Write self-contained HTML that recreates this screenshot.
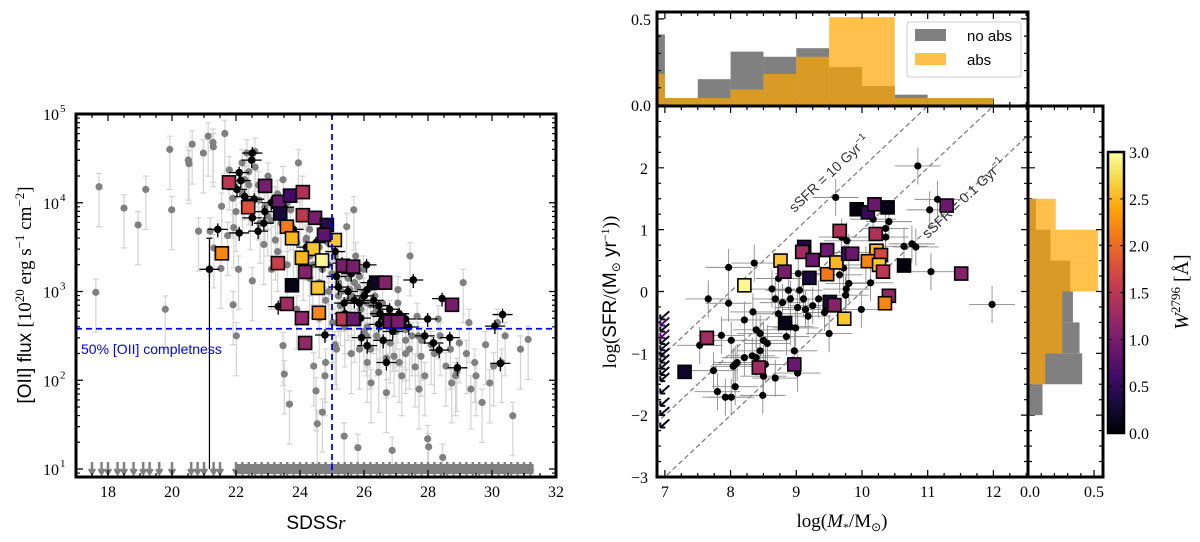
<!DOCTYPE html>
<html><head><meta charset="utf-8"><style>
body{margin:0;background:#fff;}
svg{display:block;font-family:"Liberation Serif",serif;}
.sans{font-family:"Liberation Sans",sans-serif;}
</style></head><body>
<svg id="fig" width="1200" height="542" viewBox="0 0 1200 542" xmlns="http://www.w3.org/2000/svg">
<defs>
<linearGradient id="inferno" x1="0" y1="1" x2="0" y2="0">
<stop offset="0" stop-color="#000004"/><stop offset="0.1" stop-color="#160b39"/><stop offset="0.2" stop-color="#420a68"/><stop offset="0.3" stop-color="#6a176e"/><stop offset="0.4" stop-color="#932667"/><stop offset="0.5" stop-color="#bc3754"/><stop offset="0.6" stop-color="#dd513a"/><stop offset="0.7" stop-color="#f37819"/><stop offset="0.8" stop-color="#fca50a"/><stop offset="0.9" stop-color="#f6d746"/><stop offset="1" stop-color="#fcffa4"/>
</linearGradient>
<clipPath id="clipL"><rect x="76" y="114" width="480" height="363"/></clipPath>
<clipPath id="clipR"><rect x="657" y="106" width="371" height="371"/></clipPath>
</defs>
<g id="layer"></g>
</svg>
<script>
// ---------- LEFT PANEL DATA ----------
const grayR=[17.62,17.72,18.50,18.94,19.18,19.79,19.93,19.99,20.51,20.53,20.63,20.98,21.13,21.28,21.29,21.65,21.79,20.83,21.19,21.31,21.53,21.55,21.74,21.93,22.08,21.91,22.01,22.19,22.34,22.51,22.59,22.72,22.87,22.99,23.11,23.23,23.41,23.47,23.51,23.67,23.95,24.19,24.31,24.43,24.50,24.54,24.70,24.78,24.88,25.02,25.38,25.46,25.68,25.81,26.08,26.22,26.46,26.82,27.06,27.30,27.44,27.66,27.78,27.99,28.02,28.32,28.56,28.74,28.98,29.10,29.28,29.46,29.69,29.93,30.17,30.41,30.65,30.89,31.13,28.46,26.88,30.05,27.72,27.18,26.70,26.10,25.86,26.58,26.34,26.94,27.42,27.90,28.38,28.86,29.34,25.14,25.26,25.56,25.86,26.10,26.58,27.06,25.74,25.98,22.99,23.23,22.75,23.71,24.07,22.27,22.45,23.47,24.9,25.2,25.5,25.9,26.3,26.7,27.0,25.3,25.8,26.5,24.6,24.3,24.0,23.8,23.6,23.3,23.0,22.6,22.4,24.8,27.3,27.7,26.0,25.4,
 24.2,24.5,24.7,25.0,25.1,25.3,25.5,25.6,25.7,25.9,26.0,26.2,26.4,26.6,26.8,27.0,27.2,27.5,27.8,28.1,24.4,24.6,24.9,25.2,25.4,25.7,26.1,26.4,26.9,27.3,23.4,23.6,23.9,24.1,24.3,22.9,23.1,23.3,23.6,22.7,22.2,22.0,21.9,22.4,23.9,24.6,25.1,25.6,26.2,26.7,27.1,27.6,28.2,28.7,29.2,29.8,30.3,28.9,29.5,24.8];
const grayL=[2.99,4.18,3.94,3.75,4.15,2.80,4.60,3.92,4.48,4.44,4.66,4.56,4.75,4.68,4.63,4.78,4.37,3.68,3.68,3.49,3.26,3.96,3.63,3.72,3.25,2.85,2.50,4.45,4.56,3.12,4.58,4.03,3.53,4.15,3.25,3.58,3.77,2.39,2.07,1.73,4.45,3.58,3.40,2.16,1.88,1.51,1.64,2.05,3.55,2.65,1.37,3.73,3.92,1.24,2.50,1.97,2.09,2.42,2.87,2.57,3.40,2.72,2.27,1.34,1.25,2.69,2.16,1.97,2.42,3.10,2.65,2.20,1.75,1.97,2.65,2.50,1.60,2.35,2.46,1.13,1.21,2.16,1.90,2.05,1.86,2.20,2.35,2.65,2.95,2.27,2.35,2.05,2.50,2.05,1.90,2.35,2.84,3.02,3.17,2.87,2.87,3.02,3.40,3.25,3.85,4.03,3.77,3.92,4.15,4.26,3.92,4.26,3.3,3.1,2.9,2.8,2.75,2.7,2.6,3.3,3.05,2.6,3.5,3.7,3.9,3.6,4.0,4.1,4.3,4.4,4.2,2.9,2.45,2.5,2.55,2.6,
 3.6,3.45,3.25,3.2,3.4,3.0,3.15,2.95,3.1,2.9,3.0,2.85,2.8,2.7,2.75,2.55,2.6,2.5,2.45,2.4,3.3,3.1,3.0,2.95,2.75,2.65,2.6,2.5,2.55,2.3,3.9,3.75,3.55,3.35,3.15,3.95,3.8,3.45,3.3,4.2,4.1,3.9,4.05,4.35,2.8,2.7,2.4,2.3,2.35,2.25,2.2,2.15,2.3,2.35,2.3,2.4,2.2,2.1,2.05,2.2];
const blackR=[21.17,21.43,22.10,22.10,22.15,22.51,22.49,22.57,22.51,22.87,22.69,23.32,24.78,22.03,22.27,27.54,28.44,27.99,27.90,28.17,28.35,28.68,28.92,30.33,30.09,30.26,26.70,26.10,25.92,26.46,26.94,27.30,25.38,25.86,26.10,25.14,25.32,26.08,26.46,26.58,
 25.2,25.5,25.7,26.0,26.3,26.5,26.8,27.1,27.4,25.6,25.9,26.2,26.9,25.1,25.4,26.6,24.7,24.5,23.5,23.8,24.2,23.1,22.9];
const blackL=[3.25,3.70,3.66,4.34,4.25,4.56,4.48,4.04,3.83,3.77,3.68,2.83,2.51,4.15,4.07,3.13,2.92,2.69,2.50,2.42,2.34,2.48,2.14,2.74,2.61,2.19,2.20,2.39,2.48,2.63,2.65,2.69,2.87,2.87,3.02,3.17,3.32,3.30,2.84,2.72,
 3.05,3.0,2.9,2.95,2.9,2.75,2.8,2.75,2.6,3.2,2.7,3.1,2.55,3.45,2.75,2.45,3.3,3.55,3.95,3.7,3.5,4.0,3.9];
const sqR=[21.78,22.91,22.38,23.34,23.69,24.09,23.38,24.09,24.47,23.59,23.75,24.84,25.09,24.75,24.41,21.56,23.31,24.06,24.69,24.16,25.34,25.66,23.75,24.56,26.38,26.66,23.59,24.06,24.59,25.34,25.66,26.81,27.06,24.16,28.75];
const sqL=[4.23,4.19,3.95,4.01,4.08,4.12,3.88,3.86,3.83,3.73,3.60,3.75,3.58,3.64,3.48,3.43,3.32,3.38,3.35,3.22,3.29,3.28,3.07,3.04,3.10,3.10,2.86,2.70,2.76,2.69,2.69,2.66,2.66,2.42,2.85];
const sqW=[1.5,1.0,1.8,0.9,0.6,1.4,0.3,1.5,1.0,2.1,2.5,0.4,2.6,0.8,2.6,2.2,1.6,2.5,2.95,1.1,1.0,1.0,0.1,2.6,0.2,1.1,1.3,1.2,2.2,1.5,0.9,0.9,1.0,1.2,1.0];
const limR=[17.5,17.8,18.0,18.3,18.5,18.8,19.1,19.3,19.6,20.0,20.6,20.8,21.0,21.3,21.5,22.0,22.2,22.4,22.6,22.8,23.0,23.2,23.4,23.6,23.8,24.0,24.2,24.4,24.6,24.8,25.0,25.2,25.4,25.6,25.8,26.0,26.2,26.4,26.6,26.8,27.0,27.2,27.4,27.6,27.8,28.0,28.2,28.4,28.6,28.8,29.0,29.2,29.4,29.6,29.8,30.0,30.2,30.4,30.6,30.8,31.0,31.2];
const xTicksL=[18,20,22,24,26,28,30,32];
const yTicksL=[1,2,3,4,5];
const completenessR=25, completenessL=2.58;

// ---------- RIGHT PANEL DATA ----------
const dotM=[10.85,9.60,11.15,11.03,10.41,10.36,10.36,10.17,10.64,10.76,10.82,11.05,10.13,11.98,9.99,9.80,9.76,9.75,9.66,9.72,9.50,9.43,9.34,9.25,9.18,9.14,9.11,9.05,9.03,9.02,8.88,8.91,8.79,8.73,8.68,8.63,8.73,8.36,7.97,7.66,7.97,8.34,8.21,8.39,8.45,8.50,8.56,8.45,8.39,8.33,8.21,8.10,8.07,8.04,8.07,8.01,7.92,7.80,7.74,7.53,7.86,8.01,8.68,8.49,8.50,8.53,8.97,9.02,8.91,8.99,8.85,9.77,9.69,10.06,9.80];
const dotS=[2.03,1.52,1.49,1.32,1.13,1.02,0.88,1.17,0.73,0.77,0.72,0.32,0.14,-0.21,-0.29,0.13,0.04,-0.06,0.27,0.38,-0.68,-0.34,-0.12,-0.23,-0.40,-0.29,-0.12,0.02,0.29,-0.26,0.02,-0.12,-0.18,-0.36,-0.12,0.04,0.21,0.46,0.39,-0.12,-0.19,-0.33,-0.46,-0.62,-0.68,-0.79,-0.84,-0.96,-1.07,-1.04,-1.07,-1.15,-1.18,-1.21,-1.54,-1.71,-1.71,-1.62,-1.28,-0.87,-0.71,-0.79,-1.40,-1.68,-1.37,-1.18,-0.96,-1.32,-0.57,-0.59,-0.73,0.82,0.88,0.43,0.63];
const rsqM=[7.30,7.64,8.21,8.76,8.82,8.83,8.43,8.97,9.12,9.09,9.25,9.20,9.47,9.47,9.51,9.58,9.61,9.66,9.73,9.79,9.85,9.92,10.09,10.19,10.39,10.21,10.22,10.09,10.29,10.26,10.32,10.41,10.35,10.64,11.29,11.51];
const rsqS=[-1.30,-0.75,0.10,0.50,0.32,-0.51,-1.23,-1.18,0.72,0.64,0.51,0.22,0.67,0.28,-0.17,-0.22,0.47,0.98,-0.44,0.61,0.61,1.33,1.28,1.41,1.36,0.93,0.66,0.49,0.59,0.43,0.32,-0.07,-0.19,0.42,1.39,0.29];
const rsqW=[0.2,1.3,2.95,2.6,1.0,0.1,1.3,0.9,0.4,1.3,0.9,0.3,0.9,2.1,0.3,1.1,2.5,1.4,2.6,0.6,0.9,0.05,0.5,0.9,0.1,1.4,2.5,2.2,1.7,2.6,1.5,1.2,2.2,0.05,0.9,1.1];
const limS=[-0.45,-0.55,-0.65,-0.75,-0.85,-0.95,-1.05,-1.15,-1.25,-1.35,-1.45,-1.65,-1.85,-2.0,-2.2];
const limW=[0.1,0.6,0.1,0.7,0.1,0.2,0.1,0.1,0.1,0.1,0.1,0.1,0.1,0.1,0.1];
const sSFRlines=[10,1,0.1];
const xTicksR=[7,8,9,10,11,12];
const yTicksR=[-3,-2,-1,0,1,2];

// ---------- HISTOGRAMS ----------
const massBins=[6.5,7.0,7.5,8.0,8.5,9.0,9.5,10.0,10.5,11.0,11.5,12.0];
const massNoAbs=[0.41,0.04,0.15,0.31,0.28,0.33,0.22,0.11,0.06,0.04,0.04];
const massAbs=[0.18,0.04,0.04,0.09,0.18,0.28,0.51,0.51,0.04,0.04,0.04];
const sfrBins=[-2.0,-1.5,-1.0,-0.5,0.0,0.5,1.0,1.5];
const sfrNoAbs=[0.11,0.41,0.39,0.34,0.32,0.17,0.06];
const sfrAbs=[0,0.13,0.26,0.26,0.53,0.53,0.21];
const cbTicks=[0.0,0.5,1.0,1.5,2.0,2.5,3.0];

// ---------- AXES ----------
const xL=r=>76+(r-17)*32, yL=l=>114+(5-l)*88.75;
const xR=m=>657+(m-6.88)*65.7, yR=s=>106+(3-s)*61.83;
const yTop=v=>105-v/0.54*93;
const xSide=v=>1028+v/0.545*72;
const yCb=w=>433-w/3*281;
const stops=[[0,'#000004'],[0.1,'#160b39'],[0.2,'#420a68'],[0.3,'#6a176e'],[0.4,'#932667'],[0.5,'#bc3754'],[0.6,'#dd513a'],[0.7,'#f37819'],[0.8,'#fca50a'],[0.9,'#f6d746'],[1,'#fcffa4']];
function cmap(w){let t=Math.max(0,Math.min(1,w/3));for(let i=1;i<stops.length;i++){if(t<=stops[i][0]){const a=stops[i-1],b=stops[i],f=(t-a[0])/(b[0]-a[0]);const h=s=>[1,3,5].map(k=>parseInt(s.substr(k,2),16));const A=h(a[1]),B=h(b[1]);return 'rgb('+A.map((v,j)=>Math.round(v+(B[j]-v)*f)).join(',')+')';}}return stops[10][1];}

const NS='http://www.w3.org/2000/svg';
const root=document.getElementById('layer');
function mk(tag,attrs,parent){const e=document.createElementNS(NS,tag);for(const k in attrs)e.setAttribute(k,attrs[k]);(parent||root).appendChild(e);return e;}
function grp(name,parent,clip){const g=document.createElementNS(NS,'g');


if(clip)g.setAttribute('clip-path','url(#'+clip+')');(parent||root).appendChild(g);return g;}
function txt(s,x,y,opt,parent){const t=mk('text',Object.assign({x:x,y:y},opt||{}),parent);t.textContent=s;return t;}

// ===== LEFT PANEL =====
const gL=grp('left-panel');
const gLd=grp('left-plot-area',gL,'clipL');
const gGray=grp('gray-points',gLd);
grayR.forEach((r,i)=>{const x=xL(r),l=grayL[i];
 const eb=mk('path',{d:`M${x} ${yL(l+0.15)}V${yL(l-0.45)}M${x-3} ${yL(l+0.15)}h6M${x-3} ${yL(l-0.45)}h6`,stroke:'#d3d3d3','stroke-width':1.2,fill:'none'},gGray);
 
 });
grayR.forEach((r,i)=>{const c=mk('circle',{cx:xL(r),cy:yL(grayL[i]),r:3.6,fill:'#808080'},gGray);
 
 });
const gLim=grp('upper-limits',gLd);
mk('rect',{x:xL(22),y:yL(1)-5,width:xL(31.3)-xL(22),height:10,fill:'#808080'},gLim);
limR.forEach(r=>{const x=xL(r),y=yL(1);const p=mk('path',{d:`M${x} ${y-7}V${y+4}M${x-3} ${y}L${x} ${y+5}L${x+3} ${y}`,stroke:'#808080','stroke-width':2.5,fill:'none'},gLim);
 
 });
const gBlk=grp('black-points',gLd);
mk('path',{d:`M${xL(21.17)} ${yL(3.6)}V${yL(1)}M${xL(21.17)-3} ${yL(3.6)}h6`,stroke:'#000','stroke-width':1.2},gBlk);
blackR.forEach((r,i)=>{const x=xL(r),y=yL(blackL[i]);
 const eb=mk('path',{d:`M${x-10} ${y}H${x+10}M${x} ${y-6}V${y+8}`,stroke:'#000','stroke-width':1.3},gBlk);
 
 
 const c=mk('circle',{cx:x,cy:y,r:3.8,fill:'#000'},gBlk);
 
 });
const gSq=grp('absorber-squares',gLd);
sqR.forEach((r,i)=>{const s=mk('rect',{x:xL(r)-6.5,y:yL(sqL[i])-6.5,width:13,height:13,fill:cmap(sqW[i]),stroke:'#000','stroke-width':1.6},gSq);
 
 });
const cv=mk('line',{x1:xL(completenessR),x2:xL(completenessR),y1:114,y2:477,stroke:'#0000ff','stroke-width':1.8,'stroke-dasharray':'6,4'},gL);


const ch=mk('line',{x1:76,x2:556,y1:yL(completenessL),y2:yL(completenessL),stroke:'#0000ff','stroke-width':1.8,'stroke-dasharray':'6,4'},gL);


const ct=txt('50% [OII] completness',81,354,{class:'sans','font-size':14,fill:'#0000ff'},gL);


const gLax=grp('left-axes',gL);
mk('rect',{x:76,y:114,width:480,height:363,fill:'none',stroke:'#000','stroke-width':3},gLax);
for(let r=17.5;r<32;r+=0.5){const x=xL(r),maj=xTicksL.includes(r);const len=maj?7:4;
 mk('path',{d:`M${x} 477v-${len}M${x} 114v${len}`,stroke:'#000','stroke-width':1.2},gLax);}
xTicksL.forEach(r=>{const t=txt(String(r),xL(r),497,{'font-size':16,'text-anchor':'middle'},gLax);
 
 });
for(let d=0;d<5;d++){for(let k=1;k<10;k++){const l=d+Math.log10(k);if(l<0.94)continue;const y=yL(l);const len=k==1?7:4;
 mk('path',{d:`M76 ${y}h${len}M556 ${y}h-${len}`,stroke:'#000','stroke-width':1.2},gLax);}}
yTicksL.forEach(l=>{const t=txt('10',59,yL(l)+6,{'font-size':16,'text-anchor':'end'},gLax);
 
 
 txt(String(l),60,yL(l)-2,{'font-size':11,'text-anchor':'start'},gLax);});
const lx=txt('',316,529,{class:'sans','font-size':19,'text-anchor':'middle'},gL);
lx.innerHTML='SDSS<tspan font-family="Liberation Serif" font-style="italic">r</tspan>';


const ly=txt('',0,0,{class:'sans','font-size':19,'text-anchor':'middle',transform:'translate(31,295) rotate(-90)'},gL);
ly.innerHTML='[OII] flux <tspan font-family="Liberation Serif">[10<tspan dy="-7" font-size="13">20</tspan><tspan dy="7"> erg s</tspan><tspan dy="-7" font-size="13">−1</tspan><tspan dy="7"> cm</tspan><tspan dy="-7" font-size="13">−2</tspan><tspan dy="7">]</tspan></tspan>';



// ===== RIGHT MAIN PANEL =====
const gR=grp('right-panel');
const gRd=grp('right-plot-area',gR,'clipR');
sSFRlines.forEach(v=>{const o=9-Math.log10(v);const l=mk('line',{x1:xR(6.5),y1:yR(6.5-o),x2:xR(13),y2:yR(13-o),stroke:'#808080','stroke-width':1.3,'stroke-dasharray':'5,3'},gRd);
 
 });
const gRe=grp('right-errorbars',gRd);
dotM.forEach((m,i)=>{const x=xR(m),y=yR(dotS[i]);
 const e=mk('path',{d:`M${xR(m-0.35)} ${y}H${xR(m+0.35)}M${x} ${yR(dotS[i]+0.3)}V${yR(dotS[i]-0.3)}`,stroke:'#8c8c8c','stroke-width':0.9},gRe);
 
 });
const gRdots=grp('right-black-points',gRd);
dotM.forEach((m,i)=>{const c=mk('circle',{cx:xR(m),cy:yR(dotS[i]),r:3.6,fill:'#000'},gRdots);
 
 });
const gRlim=grp('sfr-upper-limits',gRd);
limS.forEach((s,i)=>{const x=xR(6.93),y=yR(s);const p=mk('path',{d:`M${x+9} ${y-8}L${x} ${y}M${x} ${y}l5 0M${x} ${y}l0 -5`,stroke:cmap(limW[i]),'stroke-width':2,fill:'none'},gRlim);
 
 });
const gRsq=grp('right-absorber-squares',gRd);
rsqM.forEach((m,i)=>{const s=mk('rect',{x:xR(m)-6.5,y:yR(rsqS[i])-6.5,width:13,height:13,fill:cmap(rsqW[i]),stroke:'#000','stroke-width':1.6},gRsq);
 
 });
const s1=txt('',0,0,{class:'sans','font-size':14,fill:'#333','text-anchor':'middle',transform:`translate(${xR(9.55)},${yR(1.85)}) rotate(-43.4)`},gR);
s1.innerHTML='sSFR = 10 Gyr<tspan dy="-6" font-size="10">−1</tspan>';


const s2=txt('',0,0,{class:'sans','font-size':14,fill:'#333','text-anchor':'middle',transform:`translate(${xR(11.6)},${yR(1.45)}) rotate(-43.4)`},gR);
s2.innerHTML='sSFR = 0.1 Gyr<tspan dy="-6" font-size="10">−1</tspan>';


const gRax=grp('right-axes',gR);
mk('rect',{x:657,y:106,width:371,height:371,fill:'none',stroke:'#000','stroke-width':3},gRax);
for(let m=7;m<=12.5;m+=0.25){const x=xR(m),maj=Number.isInteger(m);const len=maj?7:4;
 mk('path',{d:`M${x} 477v-${len}M${x} 106v${len}M${x} 106v-${len}`,stroke:'#000','stroke-width':1.2},gRax);}
for(let s=-3;s<=3;s+=0.25){const y=yR(s),maj=Number.isInteger(s);const len=maj?7:4;
 mk('path',{d:`M657 ${y}h${len}M1028 ${y}h-${len}M1028 ${y}h${len}`,stroke:'#000','stroke-width':1.2},gRax);}
xTicksR.forEach(m=>{const t=txt(String(m),xR(m),497,{'font-size':16,'text-anchor':'middle'},gRax);
 
 });
yTicksR.forEach(s=>{const t=txt(s<0?'−'+(-s):String(s),648,yR(s)+6,{'font-size':16,'text-anchor':'end'},gRax);
 
 });
const rx=txt('',842,527,{'font-size':19,'text-anchor':'middle'},gR);
rx.innerHTML='log(<tspan font-style="italic">M</tspan><tspan font-size="12" dy="4">*</tspan><tspan dy="-4">/M</tspan><tspan font-size="12" dy="4">⊙</tspan><tspan dy="-4">)</tspan>';


const ry=txt('',0,0,{'font-size':19,'text-anchor':'middle',transform:'translate(616,292) rotate(-90)'},gR);
ry.innerHTML='log(<tspan font-family="Liberation Sans">SFR</tspan>/(<tspan font-family="Liberation Sans">M</tspan><tspan font-size="12" dy="4">⊙</tspan><tspan dy="-4" font-family="Liberation Sans"> yr</tspan><tspan dy="-7" font-size="12">−1</tspan><tspan dy="7">))</tspan>';



// ===== TOP HISTOGRAM =====
const gT=grp('mass-histogram');
function barsTop(vals,color,op,name){massBins.slice(0,-1).forEach((b,i)=>{if(!vals[i])return;const x1=Math.max(xR(b),657),x2=xR(massBins[i+1]);
 const r=mk('rect',{x:x1,y:yTop(vals[i]),width:x2-x1,height:105-yTop(vals[i]),fill:color,'fill-opacity':op},gT);
 
 });}
barsTop(massNoAbs,'#808080',1,'no-abs-bar');
barsTop(massAbs,'#ffa500',0.7,'abs-bar');
mk('rect',{x:657,y:12,width:371,height:94,fill:'none',stroke:'#000','stroke-width':3},gT);
for(let m=7;m<=12.5;m+=0.25){const x=xR(m),len=Number.isInteger(m)?7:4;mk('path',{d:`M${x} 12v${len}`,stroke:'#000','stroke-width':1.2},gT);}
for(let v=0;v<=0.5;v+=0.1){const y=yTop(v),len=(v<0.01||Math.abs(v-0.5)<0.01)?7:4;mk('path',{d:`M657 ${y}h${len}M1028 ${y}h-${len}`,stroke:'#000','stroke-width':1.2},gT);}
txt('0.5',651,yTop(0.5)+6,{'font-size':16,'text-anchor':'end'},gT);
txt('0.0',651,yTop(0)+6,{'font-size':16,'text-anchor':'end'},gT);
const lg=grp('legend',gT);
mk('rect',{x:907,y:22,width:114,height:55,rx:3,fill:'#fff','fill-opacity':0.85,stroke:'#ccc','stroke-width':1},lg);
mk('rect',{x:915,y:29,width:31,height:12,fill:'#808080'},lg);
txt('no abs',967,41,{class:'sans','font-size':15},lg);
mk('rect',{x:915,y:53,width:31,height:12,fill:'#ffa500','fill-opacity':0.7},lg);
txt('abs',967,65,{class:'sans','font-size':15},lg);

// ===== SIDE HISTOGRAM =====
const gS=grp('sfr-histogram');
function barsSide(vals,color,op,name){sfrBins.slice(0,-1).forEach((b,i)=>{if(!vals[i])return;const y1=yR(sfrBins[i+1]),y2=yR(b);
 const r=mk('rect',{x:1028,y:y1,width:xSide(vals[i])-1028,height:y2-y1,fill:color,'fill-opacity':op},gS);
 
 });}
barsSide(sfrNoAbs,'#808080',1,'no-abs-bar');
barsSide(sfrAbs,'#ffa500',0.7,'abs-bar');
mk('rect',{x:1028,y:106,width:75,height:371,fill:'none',stroke:'#000','stroke-width':3},gS);
for(let s=-3;s<=3;s+=0.25){const y=yR(s),len=Number.isInteger(s)?7:4;mk('path',{d:`M1103 ${y}h-${len}`,stroke:'#000','stroke-width':1.2},gS);}
for(let v=0;v<=0.5;v+=0.1){const x=xSide(v),len=(v<0.01||Math.abs(v-0.5)<0.01)?7:4;mk('path',{d:`M${x} 477v-${len}M${x} 106v${len}`,stroke:'#000','stroke-width':1.2},gS);}
txt('0.0',1030,497,{'font-size':16,'text-anchor':'middle'},gS);
txt('0.5',xSide(0.5),497,{'font-size':16,'text-anchor':'middle'},gS);

// ===== COLORBAR =====
const gC=grp('colorbar');
mk('rect',{x:1108,y:152,width:16,height:281,fill:'url(#inferno)',stroke:'#000','stroke-width':2.5},gC);
cbTicks.forEach(w=>{const y=yCb(w);mk('path',{d:`M1124 ${y}h-4M1108 ${y}h4`,stroke:'#000','stroke-width':1},gC);
 const t=txt(w.toFixed(1),1129,y+6,{'font-size':16},gC);
 
 });
const cl=txt('',0,0,{'font-size':20,'text-anchor':'middle',transform:'translate(1188,292) rotate(-90)'},gC);
cl.innerHTML='<tspan font-style="italic">W</tspan><tspan dy="-8" font-size="13">2796</tspan><tspan dy="8"> [Å]</tspan>';


</script>
</body></html>
